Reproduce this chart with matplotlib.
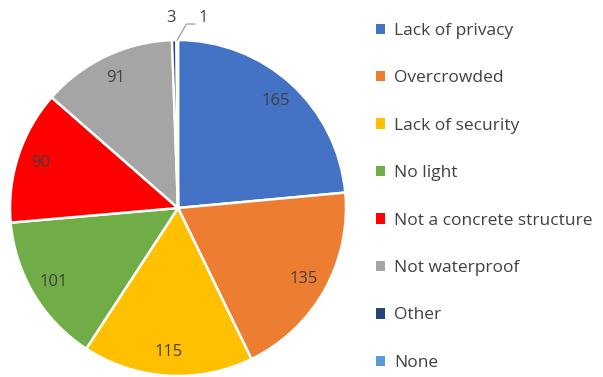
import matplotlib.pyplot as plt
from matplotlib.patches import Patch
import numpy as np

plt.rcParams['font.family'] = ['Open Sans', 'DejaVu Sans']

categories = ['Lack of privacy', 'Overcrowded', 'Lack of security', 'No light',
              'Not a concrete structure', 'Not waterproof', 'Other', 'None']
counts = [165, 135, 115, 101, 90, 91, 3, 1]
colors = ['#4472C4', '#ED7D31', '#FFC000', '#70AD47', '#FF0000', '#A5A5A5',
          '#264478', '#5B9BD5']
text_col = '#404040'

fig = plt.figure(figsize=(6.03, 3.77), dpi=100)
ax = fig.add_axes([10 / 603, 1 / 377, 336 / 603, 336 / 377])

wedges, _ = ax.pie(counts, colors=colors, startangle=90, counterclock=False,
                   wedgeprops=dict(edgecolor='white', linewidth=1.8))

# value labels inside the big slices
for w, v in zip(wedges, counts):
    mid = np.deg2rad((w.theta1 + w.theta2) / 2)
    if v > 10:
        r = 0.86
        ax.text(r * np.cos(mid), r * np.sin(mid), str(v), ha='center', va='center',
                fontsize=12, color=text_col)

# tiny slices (Other, None) labelled outside
w_none = wedges[7]
m2 = np.deg2rad((w_none.theta1 + w_none.theta2) / 2)
ax.text(-0.04, 1.13, str(counts[6]), ha='center', va='center', fontsize=12, color=text_col,
        clip_on=False)
ax.plot([np.cos(m2), 0.05, 0.10], [np.sin(m2), 1.095, 1.095],
        color='#A6A6A6', lw=1, clip_on=False)
ax.text(0.15, 1.13, str(counts[7]), ha='center', va='center', fontsize=12, color=text_col,
        clip_on=False)
ax.set_xlim(-1, 1)
ax.set_ylim(-1, 1)
ax.set_aspect('equal')

handles = [Patch(facecolor=c, edgecolor='none') for c in colors]
fig.legend(handles, categories, loc='upper left', bbox_to_anchor=(369 / 603, 1 - 16 / 377),
           frameon=False, fontsize=12.5, labelcolor=text_col, handlelength=0.55,
           handleheight=0.55, handletextpad=0.5, labelspacing=1.81, borderaxespad=0)

fig.savefig('out.png', dpi=100)
